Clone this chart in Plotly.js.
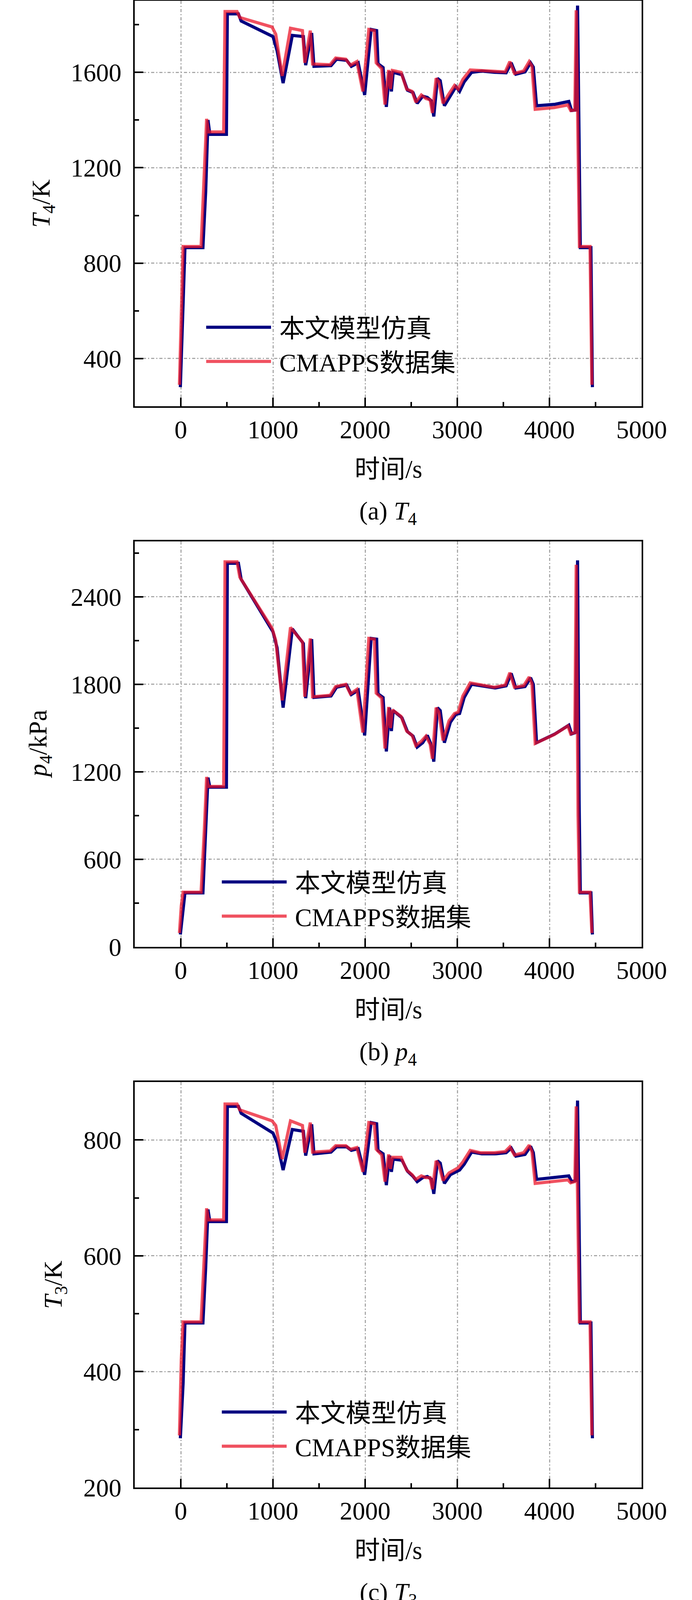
<!DOCTYPE html>
<html><head><meta charset="utf-8">
<script src="https://cdn.plot.ly/plotly-3.0.1.min.js"></script>
<style>html,body{margin:0;padding:0;background:#fff;overflow:hidden}</style>
</head><body>
<div id="chart" style="width:1772px;height:6896px"></div>
<script>
// ---------- data ----------
const time_cmapps = [-15,5,25,220,255,280,300,465,480,610,640,990,1030,1100,1190,1320,1345,1405,1430,1620,1680,1790,1840,1910,1975,2040,2100,2120,2180,2215,2255,2275,2295,2390,2450,2510,2550,2610,2660,2705,2730,2770,2800,2845,2910,2970,3010,3060,3140,3250,3400,3520,3570,3620,3720,3780,3810,3845,4050,4200,4230,4275,4290,4310,4325,4440,4452,4460];
const time_model = [-5,25,45,240,270,295,315,495,505,625,655,1000,1045,1110,1210,1330,1355,1420,1445,1630,1690,1800,1850,1925,1995,2065,2125,2140,2195,2230,2265,2285,2305,2400,2460,2520,2565,2625,2675,2720,2745,2785,2815,2860,2925,2985,3025,3075,3155,3265,3410,3530,3585,3635,3735,3795,3825,3860,4060,4210,4240,4285,4305,4322,4335,4450,4458,4466];

const T4_model = [280,600,865,865,1100,1400,1340,1340,1845,1845,1815,1750,1690,1555,1755,1750,1630,1765,1625,1628,1655,1650,1625,1640,1505,1780,1775,1636,1620,1455,1605,1520,1600,1590,1525,1515,1470,1500,1495,1480,1415,1575,1565,1460,1505,1540,1520,1560,1600,1605,1600,1598,1640,1592,1602,1640,1622,1460,1466,1478,1440,1442,1880,1200,865,865,600,280];
const T4_cmapps = [290,650,870,870,1150,1405,1350,1350,1855,1855,1830,1790,1760,1585,1785,1775,1640,1775,1635,1632,1660,1655,1630,1645,1520,1780,1775,1640,1615,1465,1610,1530,1608,1600,1530,1520,1475,1505,1490,1485,1430,1575,1560,1470,1510,1545,1530,1570,1610,1608,1605,1602,1645,1596,1606,1645,1626,1445,1452,1463,1440,1442,1860,1150,870,870,560,290];

const p4_model = [85,250,370,370,750,1160,1095,1095,2630,2630,2520,2160,2050,1640,2180,2080,1705,2110,1710,1720,1780,1795,1730,1760,1450,2115,2110,1735,1710,1340,1640,1480,1620,1570,1475,1445,1370,1400,1450,1380,1270,1640,1620,1400,1540,1595,1600,1710,1800,1790,1775,1790,1875,1775,1785,1845,1800,1400,1460,1520,1460,1470,2650,1000,370,370,200,85];
const p4_cmapps = [95,280,375,375,800,1165,1100,1100,2640,2640,2535,2185,2100,1690,2190,2090,1715,2115,1715,1725,1785,1800,1735,1765,1470,2115,2110,1740,1705,1360,1645,1500,1625,1580,1480,1450,1380,1410,1445,1390,1290,1640,1610,1415,1550,1600,1610,1720,1810,1795,1780,1795,1880,1780,1790,1850,1805,1395,1455,1515,1460,1470,2620,900,375,375,180,95];

const T3_model = [285,380,484,484,580,680,659,659,858,858,846,812,795,748,818,815,773,827,776,779,788,788,782,785,740,830,828,782,776,722,773,745,767,765,746,737,728,735,737,732,707,764,760,725,740,745,748,758,779,776,776,778,786,772,775,789,778,732,735,738,728,730,868,650,484,484,380,285];
const T3_cmapps = [290,420,486,486,600,682,662,662,862,862,852,833,825,767,833,825,778,830,779,781,790,790,784,787,745,830,828,784,774,728,775,750,770,770,748,740,732,738,735,735,715,764,757,730,743,748,752,762,782,778,778,780,788,774,778,791,780,725,728,731,726,728,858,620,486,486,360,290];

const T45_model = [285,450,640,640,820,1022,986,986,1382,1382,1352,1297,1270,1127,1297,1295,1191,1313,1180,1186,1213,1210,1190,1202,1097,1319,1315,1197,1180,1058,1169,1100,1160,1147,1108,1080,1063,1075,1091,1070,1022,1147,1140,1052,1090,1100,1105,1119,1174,1180,1178,1180,1202,1170,1172,1200,1180,1052,1058,1069,1036,1040,1397,900,641,641,450,285];
const T45_cmapps = [290,500,642,642,850,1025,990,990,1388,1388,1362,1324,1310,1158,1322,1312,1196,1318,1185,1189,1216,1213,1194,1205,1108,1319,1315,1200,1177,1068,1172,1110,1165,1153,1112,1085,1068,1080,1087,1075,1035,1147,1135,1060,1095,1105,1112,1126,1180,1183,1182,1184,1206,1174,1176,1204,1184,1041,1046,1055,1034,1038,1391,850,643,643,420,290];

const p45_model = [92,115,136,136,250,380,363,363,867,867,828,702,678,502,702,663,536,682,536,529,563,555,535,545,432,682,680,540,532,398,513,450,502,486,448,425,402,410,440,420,371,509,500,417,471,486,490,525,571,563,560,565,590,555,560,579,560,417,435,463,436,440,875,400,136,136,115,95];
const p45_cmapps = [97,120,138,138,270,382,365,365,870,870,832,713,695,517,705,668,540,685,540,532,565,558,538,548,440,682,680,543,530,405,515,460,505,490,452,428,406,414,437,424,380,509,495,422,475,490,495,530,575,566,563,568,593,558,563,582,563,413,431,459,436,440,870,350,138,138,110,100];

const series_names = ['本文模型仿真', 'CMAPPS数据集'];
const y_titles = ['<i>T</i><sub>4</sub>/K', '<i>p</i><sub>4</sub>/kPa', '<i>T</i><sub>3</sub>/K', '<i>T</i><sub>45</sub>/K', '<i>p</i><sub>45</sub>/kPa'];
const captions = ['(a) <i>T</i><sub>4</sub>', '(b) <i>p</i><sub>4</sub>', '(c) <i>T</i><sub>3</sub>', '(d) <i>T</i><sub>45</sub>', '(e) <i>p</i><sub>45</sub>'];
const x_title = '时间/s';
const x_tick_values = [0, 1000, 2000, 3000, 4000, 5000];

const model_series = [T4_model, p4_model, T3_model, T45_model, p45_model];
const cmapps_series = [T4_cmapps, p4_cmapps, T3_cmapps, T45_cmapps, p45_cmapps];

// ---------- axis settings ----------
const y_ranges = [[200,1900],[0,2780],[200,900],[200,1500],[0,900]];
const y_tick0 = [400, 0, 200, 200, 0];
const y_dtick = [400, 600, 200, 200, 200];
const y_minor = [200, 300, 100, 100, 100];

// ---------- layout geometry (pixels) ----------
const W = 1772, H = 6896;
const PL = 345, PR = 1643, TOP0 = 2, STEP = 1384, PH = 1038;
const ytitle_x = [110, 102, 141, 122, 124];
const legend_line_x = [528, 568, 568, 548, 548];
const legend_row1_above = [205, 169, 196, 178, 170];

const FONT = 'Liberation Serif, "Times New Roman", "Noto Sans CJK SC", serif';
const BLUE = '#000080';
const RED = 'rgba(235,20,40,0.74)';

const fx = px => px / W;
const fy = py => 1 - py / H;

const traces = [];
const layout = {
  width: W, height: H,
  margin: {l: 0, r: 0, t: 0, b: 0},
  paper_bgcolor: '#fff', plot_bgcolor: '#fff',
  font: {family: FONT, size: 65, color: '#000'},
  annotations: [],
  showlegend: true
};

for (let k = 0; k < 5; k++) {
  const top = TOP0 + STEP * k, bot = top + PH;
  const sfx = k === 0 ? '' : String(k + 1);
  const xa = 'x' + sfx, ya = 'y' + sfx;
  const lg = 'legend' + sfx;
  traces.push({
    x: time_model, y: model_series[k], xaxis: xa, yaxis: ya,
    type: 'scatter', mode: 'lines', name: '\u00a0' + series_names[0], legend: lg,
    line: {color: BLUE, width: 8}
  });
  traces.push({
    x: time_cmapps, y: cmapps_series[k], xaxis: xa, yaxis: ya,
    type: 'scatter', mode: 'lines', name: '\u00a0' + series_names[1], legend: lg,
    line: {color: RED, width: 8}
  });
  const common = {
    showline: true, linecolor: '#000', linewidth: 4, mirror: true,
    ticks: 'inside', ticklen: 22, tickwidth: 4, tickcolor: '#000',
    showgrid: true, gridcolor: '#a9a9a9', gridwidth: 3, griddash: '8px,5px,3px,5px',
    zeroline: false,
    tickfont: {family: FONT, size: 65, color: '#000'},
  };
  layout['xaxis' + sfx] = Object.assign({}, common, {
    domain: [fx(PL), fx(PR)], anchor: ya,
    range: [-500, 5000], tickmode: 'array', tickvals: x_tick_values,
    ticktext: x_tick_values.map(String),
    minor: {ticks: 'inside', ticklen: 11, tickwidth: 4, tickcolor: '#000', dtick: 500, tick0: 0, showgrid: false}
  });
  layout['yaxis' + sfx] = Object.assign({}, common, {
    domain: [fy(bot), fy(top)], anchor: xa,
    range: y_ranges[k], tick0: y_tick0[k], dtick: y_dtick[k],
    ticklabelstandoff: 17,
    minor: {ticks: 'inside', ticklen: 11, tickwidth: 4, tickcolor: '#000', dtick: y_minor[k], tick0: 0, showgrid: false}
  });
  layout[lg] = {
    x: fx(legend_line_x[k] - 5), y: fy(bot - legend_row1_above[k] - 46),
    xanchor: 'left', yanchor: 'top',
    bgcolor: 'rgba(0,0,0,0)', borderwidth: 0,
    font: {family: FONT, size: 65, color: '#000'},
    itemwidth: 166, tracegroupgap: 0
  };
  layout.annotations.push({
    xref: 'paper', yref: 'paper', x: fx(ytitle_x[k]), y: fy((top + bot) / 2),
    text: y_titles[k], textangle: -90, showarrow: false,
    xanchor: 'center', yanchor: 'middle', font: {family: FONT, size: 65, color: '#000'}
  });
  layout.annotations.push({
    xref: 'paper', yref: 'paper', x: fx((PL + PR) / 2), y: fy(bot + 161),
    text: x_title, showarrow: false, xanchor: 'center', yanchor: 'middle',
    font: {family: FONT, size: 65, color: '#000'}
  });
  layout.annotations.push({
    xref: 'paper', yref: 'paper', x: fx((PL + PR) / 2), y: fy(bot + 273),
    text: captions[k], showarrow: false, xanchor: 'center', yanchor: 'middle',
    font: {family: FONT, size: 65, color: '#000'}
  });
}

Plotly.newPlot('chart', traces, layout, {staticPlot: true, displayModeBar: false});
</script>
</body></html>
